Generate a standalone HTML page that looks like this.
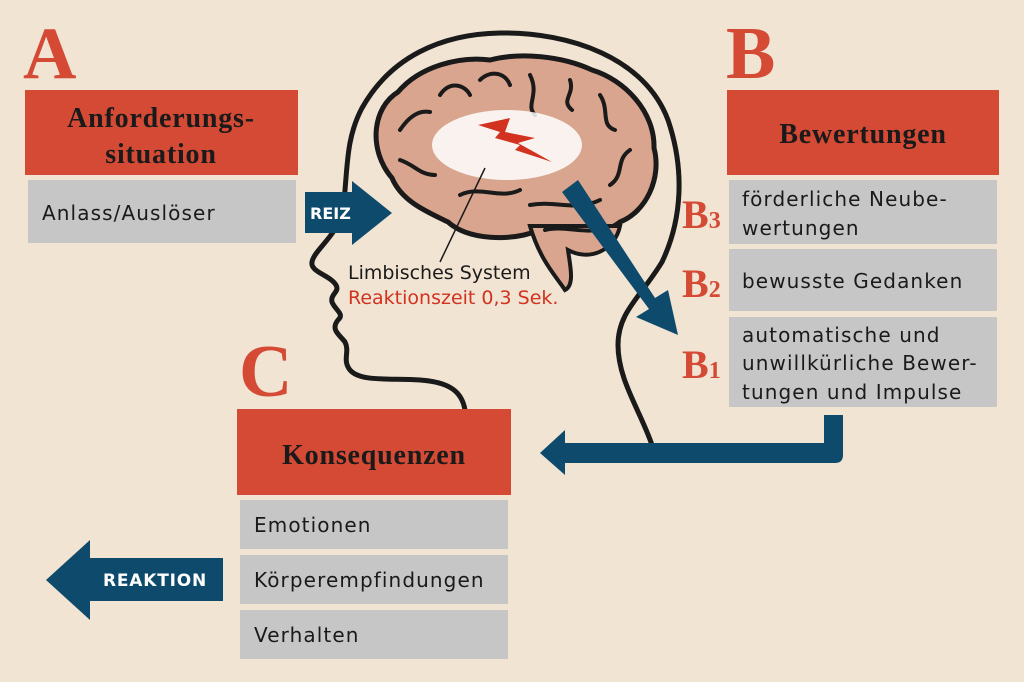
<!DOCTYPE html>
<html><head><meta charset="utf-8"><style>
html,body{margin:0;padding:0;background:#f1e4d3;}
svg{display:block;}
.serif{font-family:"Liberation Serif",serif;font-weight:bold;}
.sans{font-family:"DejaVu Sans","Liberation Sans",sans-serif;}
.t{font-size:20px;letter-spacing:1.1px;fill:#1a1a1a;}
.h{font-size:28px;letter-spacing:0.8px;fill:#1a1a1a;}
</style></head><body>
<svg width="1024" height="682" viewBox="0 0 1024 682" xmlns="http://www.w3.org/2000/svg">
<rect width="1024" height="682" fill="#f1e4d3"/>

<!-- head outline -->
<path d="M465,410 C462,392 450,382 420,380 C390,378 360,382 350,370 C342,360 350,352 345,342 C340,335 330,330 338,320 C345,314 335,310 332,302 C330,294 340,292 336,285 C330,275 310,272 312,262 C314,250 338,235 343,210 C348,170 345,140 362,108 C390,58 440,34 500,33 C570,32 645,58 668,120 C685,170 682,220 662,262 C640,298 618,312 618,345 C618,380 640,410 652,445" fill="none" stroke="#1a1a1a" stroke-width="5" stroke-linecap="round"/>

<!-- brain -->
<path d="M392,178 C368,150 372,108 398,92 C420,66 460,56 490,60 C520,52 562,56 592,70 C625,80 655,112 654,148 C662,178 646,212 620,222 C600,237 570,242 540,230 C510,242 468,240 448,222 C428,212 402,202 392,178 Z" fill="#d9a58f" stroke="#1a1a1a" stroke-width="5"/>
<path d="M530,226 C540,260 555,275 565,290 C575,285 570,265 568,250 C590,262 615,250 620,226 Z" fill="#d9a58f" stroke="#1a1a1a" stroke-width="4"/>
<g fill="none" stroke="#1a1a1a" stroke-width="4" stroke-linecap="round">
<path d="M400,130 C410,115 420,110 430,112"/>
<path d="M440,95 C450,80 465,85 470,95"/>
<path d="M480,80 C490,70 505,72 510,85"/>
<path d="M530,75 C540,95 525,105 535,115"/>
<path d="M570,80 C575,95 560,100 572,110"/>
<path d="M600,95 C610,110 600,125 615,130"/>
<path d="M630,150 C615,160 625,175 610,185"/>
<path d="M400,160 C415,165 420,175 435,175"/>
<path d="M460,195 C480,185 500,200 520,190"/>
<path d="M530,205 C555,200 575,212 600,200"/>
<path d="M545,230 C565,225 585,235 605,228"/>
</g>
<ellipse cx="507" cy="145" rx="75" ry="35" fill="#ffffff" opacity="0.85"/>
<path d="M478,125 L510,118 L505,132 L535,138 L518,143 L552,162 L515,150 L520,145 L495,138 L500,132 Z" fill="#d2321f"/>
<line x1="485" y1="168" x2="440" y2="262" stroke="#1a1a1a" stroke-width="1.5"/>

<text x="348" y="279" class="sans" font-size="19" fill="#1a1a1a">Limbisches System</text>
<text x="348" y="304" class="sans" font-size="19" fill="#d2321f">Reaktionszeit 0,3 Sek.</text>

<!-- REIZ arrow -->
<path d="M305,192 L352,192 L352,181 L392,213 L352,245 L352,233 L305,233 Z" fill="#0e4a6b"/>
<text x="310" y="219" class="sans" font-size="16" font-weight="bold" fill="#fff">REIZ</text>

<!-- diagonal arrow -->
<path d="M562,192 L578,180 L655,298 L668,290 L678,335 L636,317 L649,309 Z" fill="#0e4a6b"/>

<!-- return arrow -->
<path d="M824,415 L843,415 L843,455 Q843,463 835,463 L565,463 L565,475 L540,453 L565,430 L565,443 L824,443 Z" fill="#0e4a6b"/>

<!-- REAKTION arrow -->
<path d="M223,558 L90,558 L90,540 L46,580 L90,620 L90,601 L223,601 Z" fill="#0e4a6b"/>
<text x="103" y="586" class="sans" font-size="17" font-weight="bold" letter-spacing="0.8" fill="#fff">REAKTION</text>

<!-- A -->
<text x="23" y="78" class="serif" font-size="74" fill="#d44a35">A</text>
<rect x="25" y="90" width="273" height="85" fill="#d44a35"/>
<text x="161" y="127" class="serif h" text-anchor="middle">Anforderungs-</text>
<text x="161" y="163" class="serif h" text-anchor="middle">situation</text>
<rect x="28" y="180" width="268" height="63" fill="#c6c6c6"/>
<text x="42" y="220" class="sans t">Anlass/Auslöser</text>

<!-- B -->
<text x="726" y="78" class="serif" font-size="74" fill="#d44a35">B</text>
<rect x="727" y="90" width="272" height="85" fill="#d44a35"/>
<text x="863" y="143" class="serif h" text-anchor="middle">Bewertungen</text>
<rect x="729" y="180" width="268" height="64" fill="#c6c6c6"/>
<text x="742" y="206" class="sans t">förderliche Neube-</text>
<text x="742" y="235" class="sans t">wertungen</text>
<rect x="729" y="249" width="268" height="62" fill="#c6c6c6"/>
<text x="742" y="288" class="sans t">bewusste Gedanken</text>
<rect x="729" y="317" width="268" height="90" fill="#c6c6c6"/>
<text x="742" y="342" class="sans t">automatische und</text>
<text x="742" y="370" class="sans t">unwillkürliche Bewer-</text>
<text x="742" y="399" class="sans t">tungen und Impulse</text>
<text x="682" y="228" class="serif" font-size="40" fill="#d44a35">B<tspan font-size="24">3</tspan></text>
<text x="682" y="297" class="serif" font-size="40" fill="#d44a35">B<tspan font-size="24">2</tspan></text>
<text x="682" y="378" class="serif" font-size="40" fill="#d44a35">B<tspan font-size="24">1</tspan></text>

<!-- C -->
<text x="239" y="396" class="serif" font-size="74" fill="#d44a35">C</text>
<rect x="237" y="409" width="274" height="86" fill="#d44a35"/>
<text x="374" y="464" class="serif h" text-anchor="middle">Konsequenzen</text>
<rect x="240" y="500" width="268" height="49" fill="#c6c6c6"/>
<text x="254" y="532" class="sans t">Emotionen</text>
<rect x="240" y="555" width="268" height="49" fill="#c6c6c6"/>
<text x="254" y="587" class="sans t">Körperempfindungen</text>
<rect x="240" y="610" width="268" height="49" fill="#c6c6c6"/>
<text x="254" y="642" class="sans t">Verhalten</text>
</svg>
</body></html>
